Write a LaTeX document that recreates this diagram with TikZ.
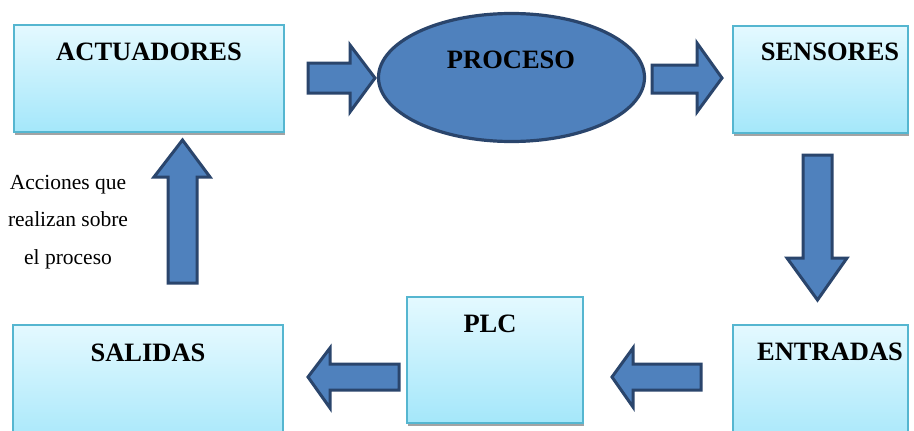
\documentclass[tikz,border=0pt]{standalone}
\usepackage{fontspec}
\setmainfont{Liberation Serif}
\usetikzlibrary{shapes.geometric,shadows}
\definecolor{boxtop}{HTML}{E4F9FF}
\definecolor{boxbot}{HTML}{A4E7FA}
\definecolor{boxline}{HTML}{55B6D0}
\definecolor{arrfill}{HTML}{4F81BD}
\definecolor{arrline}{HTML}{2A456C}
\tikzset{
  box/.style={rectangle, draw=boxline, line width=1.3pt, top color=boxtop, bottom color=boxbot,
    inner sep=0pt, drop shadow={shadow xshift=0.5pt, shadow yshift=-3pt, fill=black!45, opacity=0.8}},
  ttl/.style={font=\fontsize{26.5}{30}\selectfont\bfseries, inner sep=0pt, text=black},
  blk/.style={fill=arrfill, draw=arrline, line width=3pt, line join=miter},
  proc/.style={ellipse, fill=arrfill, draw=arrline, line width=3.2pt, inner sep=0pt}
}
\begin{document}
\begin{tikzpicture}[x=1pt,y=-1pt]
\clip (0,0) rectangle (914,431);
\fill[white] (0,0) rectangle (914,431);
% boxes
\node[box, minimum width=270pt, minimum height=107pt] (act) at (149,78.5) {};
\node[box, minimum width=175pt, minimum height=107pt] (sen) at (820.5,79.5) {};
\node[box, minimum width=175pt, minimum height=125pt] (ent) at (820.5,387.5) {};
\node[box, minimum width=270pt, minimum height=125pt] (sal) at (148,387.5) {};
\node[box, minimum width=176pt, minimum height=126pt] (plc) at (495,360) {};
\node[proc, minimum width=266pt, minimum height=128pt] (pro) at (511.5,77.5) {};
% titles
\node[ttl] (tact) at (149,52) {ACTUADORES};
\node[ttl] (tsen) at (830,52) {SENSORES};
\node[ttl] (tpro) at (511,60) {PROCESO};
\node[ttl] (tplc) at (490,324) {PLC};
\node[ttl] (tent) at (830,352) {ENTRADAS};
\node[ttl] (tsal) at (148,353) {SALIDAS};
% side note
\node[align=center, inner sep=0pt, font=\fontsize{21.5}{37.5}\selectfont] (note) at (68,222)
  {Acciones que\\realizan sobre\\el proceso};
% block arrows
\draw[blk] (308,63) -- (350,63) -- (350,45) -- (375,78) -- (350,112) -- (350,93) -- (308,93) -- cycle;
\draw[blk] (652,65) -- (697,65) -- (697,43) -- (722,78) -- (697,112) -- (697,93) -- (652,93) -- cycle;
\draw[blk] (803,155) -- (832,155) -- (832,258) -- (847,258) -- (817.5,300) -- (787,258) -- (803,258) -- cycle;
\draw[blk] (701,364) -- (633,364) -- (633,348) -- (612,377) -- (633,407) -- (633,390) -- (701,390) -- cycle;
\draw[blk] (399,364) -- (330,364) -- (330,348) -- (308,377) -- (330,408) -- (330,390) -- (399,390) -- cycle;
\draw[blk] (168,283) -- (168,177) -- (154,177) -- (182.5,140) -- (210,177) -- (197,177) -- (197,283) -- cycle;
\end{tikzpicture}
\end{document}
